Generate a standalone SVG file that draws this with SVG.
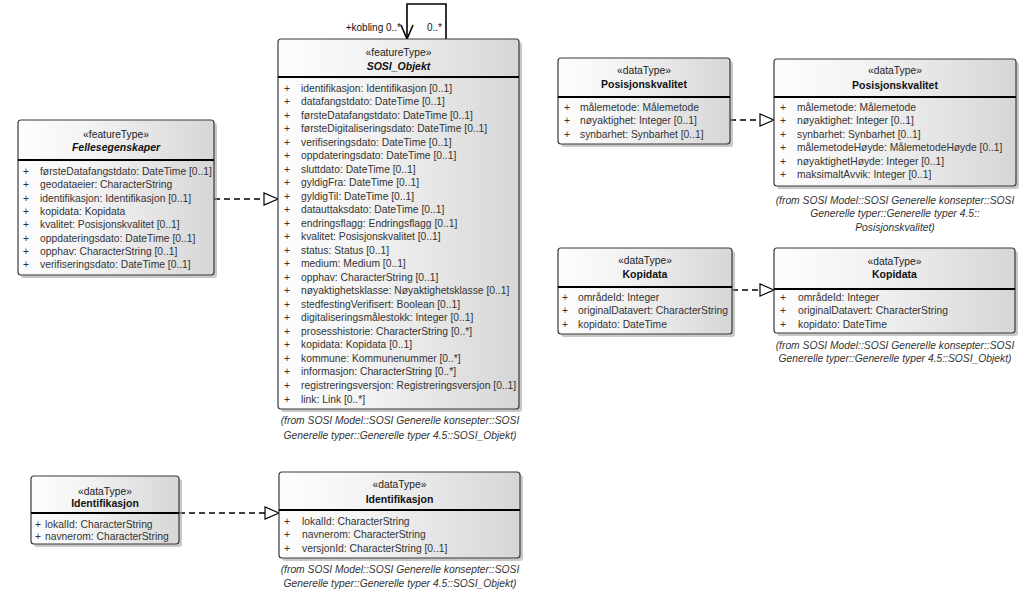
<svg xmlns="http://www.w3.org/2000/svg" width="1023" height="606" viewBox="0 0 1023 606">
<defs>
<linearGradient id="g" x1="0" y1="0" x2="1" y2="0">
<stop offset="0" stop-color="#fdfdfd"/>
<stop offset="0.35" stop-color="#f4f4f4"/>
<stop offset="1" stop-color="#d6d6d6"/>
</linearGradient>
<style>
.box{fill:url(#g);stroke:#3a3a3a;stroke-width:1.2}
.sh{fill:#9a9a9a;opacity:0.55}
.div{stroke:#000;stroke-width:2}
text{font-family:"Liberation Sans",Arial,sans-serif}
.st{font-size:10.3px;fill:#222;text-anchor:middle}
.ti{font-size:10.5px;font-weight:bold;fill:#111;text-anchor:middle}
.tii{font-size:10.5px;font-weight:bold;font-style:italic;fill:#111;text-anchor:middle}
.a{font-size:10.3px;fill:#333}
.fr{font-size:10.3px;font-style:italic;fill:#333;text-anchor:middle}
.lb{font-size:10px;fill:#111}
.dash{fill:none;stroke:#000;stroke-width:1.3;stroke-dasharray:6 4}
.tri{fill:#fff;stroke:#000;stroke-width:1.2}
.ln{fill:none;stroke:#000;stroke-width:1.6}
</style>
</defs>

<g id="connectors">
<path class="dash" d="M214,199 L264,199"/>
<polygon class="tri" points="278,199 264,193 264,205"/>
<path class="dash" d="M730,120 L760,120"/>
<polygon class="tri" points="774,120 760,114 760,126"/>
<path class="dash" d="M732,290 L760,290"/>
<polygon class="tri" points="774,290 760,284 760,296"/>
<path class="dash" d="M179,513 L265,513"/>
<polygon class="tri" points="279,513 265,507 265,519"/>
<path class="ln" d="M407,39 L407,4 L446,4 L446,39"/>
<polyline class="ln" points="401,25 407,39 413,25"/>
<text class="lb" x="401" y="31" text-anchor="end">+kobling 0..*</text>
<text class="lb" x="427" y="31">0..*</text>
</g>

<g id="Fellesegenskaper">
<rect class="sh" x="21" y="123" width="196" height="155" rx="3"/>
<rect class="box" x="18" y="120" width="196" height="155" rx="3"/>
<line class="div" x1="18" y1="160" x2="214" y2="160"/>
<text class="st" x="116" y="137.5">«featureType»</text>
<text class="tii" x="116" y="151">Fellesegenskaper</text>
<g class="a">
<text x="23" y="175">+</text><text x="40" y="175">førsteDatafangstdato: DateTime [0..1]</text>
<text x="23" y="188.3">+</text><text x="40" y="188.3">geodataeier: CharacterString</text>
<text x="23" y="201.6">+</text><text x="40" y="201.6">identifikasjon: Identifikasjon [0..1]</text>
<text x="23" y="214.9">+</text><text x="40" y="214.9">kopidata: Kopidata</text>
<text x="23" y="228.2">+</text><text x="40" y="228.2">kvalitet: Posisjonskvalitet [0..1]</text>
<text x="23" y="241.5">+</text><text x="40" y="241.5">oppdateringsdato: DateTime [0..1]</text>
<text x="23" y="254.8">+</text><text x="40" y="254.8">opphav: CharacterString [0..1]</text>
<text x="23" y="268.1">+</text><text x="40" y="268.1">verifiseringsdato: DateTime [0..1]</text>
</g>
</g>

<g id="SOSI_Objekt">
<rect class="sh" x="281" y="42" width="241" height="370" rx="3"/>
<rect class="box" x="278" y="39" width="241" height="370" rx="3"/>
<line class="div" x1="278" y1="77" x2="519" y2="77"/>
<text class="st" x="398.5" y="55.5">«featureType»</text>
<text class="tii" x="398.5" y="69.5">SOSI_Objekt</text>
<g class="a">
<text x="284" y="91.5">+</text><text x="301" y="91.5">identifikasjon: Identifikasjon [0..1]</text>
<text x="284" y="105">+</text><text x="301" y="105">datafangstdato: DateTime [0..1]</text>
<text x="284" y="118.5">+</text><text x="301" y="118.5">førsteDatafangstdato: DateTime [0..1]</text>
<text x="284" y="132.1">+</text><text x="301" y="132.1">førsteDigitaliseringsdato: DateTime [0..1]</text>
<text x="284" y="145.6">+</text><text x="301" y="145.6">verifiseringsdato: DateTime [0..1]</text>
<text x="284" y="159.1">+</text><text x="301" y="159.1">oppdateringsdato: DateTime [0..1]</text>
<text x="284" y="172.6">+</text><text x="301" y="172.6">sluttdato: DateTime [0..1]</text>
<text x="284" y="186.1">+</text><text x="301" y="186.1">gyldigFra: DateTime [0..1]</text>
<text x="284" y="199.7">+</text><text x="301" y="199.7">gyldigTil: DateTime [0..1]</text>
<text x="284" y="213.2">+</text><text x="301" y="213.2">datauttaksdato: DateTime [0..1]</text>
<text x="284" y="226.7">+</text><text x="301" y="226.7">endringsflagg: Endringsflagg [0..1]</text>
<text x="284" y="240.2">+</text><text x="301" y="240.2">kvalitet: Posisjonskvalitet [0..1]</text>
<text x="284" y="253.7">+</text><text x="301" y="253.7">status: Status [0..1]</text>
<text x="284" y="267.3">+</text><text x="301" y="267.3">medium: Medium [0..1]</text>
<text x="284" y="280.8">+</text><text x="301" y="280.8">opphav: CharacterString [0..1]</text>
<text x="284" y="294.3">+</text><text x="301" y="294.3">nøyaktighetsklasse: Nøyaktighetsklasse [0..1]</text>
<text x="284" y="307.8">+</text><text x="301" y="307.8">stedfestingVerifisert: Boolean [0..1]</text>
<text x="284" y="321.3">+</text><text x="301" y="321.3">digitaliseringsmålestokk: Integer [0..1]</text>
<text x="284" y="334.9">+</text><text x="301" y="334.9">prosesshistorie: CharacterString [0..*]</text>
<text x="284" y="348.4">+</text><text x="301" y="348.4">kopidata: Kopidata [0..1]</text>
<text x="284" y="361.9">+</text><text x="301" y="361.9">kommune: Kommunenummer [0..*]</text>
<text x="284" y="375.4">+</text><text x="301" y="375.4">informasjon: CharacterString [0..*]</text>
<text x="284" y="388.9">+</text><text x="301" y="388.9">registreringsversjon: Registreringsversjon [0..1]</text>
<text x="284" y="402.5">+</text><text x="301" y="402.5">link: Link [0..*]</text>
</g>
<text class="fr" x="400" y="424">(from SOSI Model::SOSI Generelle konsepter::SOSI</text>
<text class="fr" x="400" y="439">Generelle typer::Generelle typer 4.5::SOSI_Objekt)</text>
</g>

<g id="Posisjonskvalitet_left">
<rect class="sh" x="561" y="61" width="172" height="86" rx="3"/>
<rect class="box" x="558" y="58" width="172" height="86" rx="3"/>
<line class="div" x1="558" y1="97" x2="730" y2="97"/>
<text class="st" x="644" y="73.5">«dataType»</text>
<text class="ti" x="644" y="87.5">Posisjonskvalitet</text>
<g class="a">
<text x="564" y="110.5">+</text><text x="580" y="110.5">målemetode: Målemetode</text>
<text x="564" y="124">+</text><text x="580" y="124">nøyaktighet: Integer [0..1]</text>
<text x="564" y="137.5">+</text><text x="580" y="137.5">synbarhet: Synbarhet [0..1]</text>
</g>
</g>

<g id="Posisjonskvalitet_right">
<rect class="sh" x="777" y="62" width="242" height="127" rx="3"/>
<rect class="box" x="774" y="59" width="242" height="127" rx="3"/>
<line class="div" x1="774" y1="97" x2="1016" y2="97"/>
<text class="st" x="895" y="73.5">«dataType»</text>
<text class="ti" x="895" y="89">Posisjonskvalitet</text>
<g class="a">
<text x="780" y="110.5">+</text><text x="797" y="110.5">målemetode: Målemetode</text>
<text x="780" y="124">+</text><text x="797" y="124">nøyaktighet: Integer [0..1]</text>
<text x="780" y="137.5">+</text><text x="797" y="137.5">synbarhet: Synbarhet [0..1]</text>
<text x="780" y="151">+</text><text x="797" y="151">målemetodeHøyde: MålemetodeHøyde [0..1]</text>
<text x="780" y="164.5">+</text><text x="797" y="164.5">nøyaktighetHøyde: Integer [0..1]</text>
<text x="780" y="178">+</text><text x="797" y="178">maksimaltAvvik: Integer [0..1]</text>
</g>
<text class="fr" x="895" y="203.5">(from SOSI Model::SOSI Generelle konsepter::SOSI</text>
<text class="fr" x="895" y="217">Generelle typer::Generelle typer 4.5::</text>
<text class="fr" x="895" y="231">Posisjonskvalitet)</text>
</g>

<g id="Kopidata_left">
<rect class="sh" x="561" y="251" width="174" height="86" rx="3"/>
<rect class="box" x="558" y="248" width="174" height="86" rx="3"/>
<line class="div" x1="558" y1="287" x2="732" y2="287"/>
<text class="st" x="645" y="263.5">«dataType»</text>
<text class="ti" x="645" y="277.5">Kopidata</text>
<g class="a">
<text x="562" y="300.5">+</text><text x="578" y="300.5">områdeId: Integer</text>
<text x="562" y="314">+</text><text x="578" y="314">originalDatavert: CharacterString</text>
<text x="562" y="327.5">+</text><text x="578" y="327.5">kopidato: DateTime</text>
</g>
</g>

<g id="Kopidata_right">
<rect class="sh" x="777" y="251" width="241" height="85" rx="3"/>
<rect class="box" x="774" y="248" width="241" height="85" rx="3"/>
<line class="div" x1="774" y1="289" x2="1015" y2="289"/>
<text class="st" x="894.5" y="265">«dataType»</text>
<text class="ti" x="894.5" y="278">Kopidata</text>
<g class="a">
<text x="780" y="300.5">+</text><text x="798" y="300.5">områdeId: Integer</text>
<text x="780" y="314">+</text><text x="798" y="314">originalDatavert: CharacterString</text>
<text x="780" y="327.5">+</text><text x="798" y="327.5">kopidato: DateTime</text>
</g>
<text class="fr" x="895" y="348.5">(from SOSI Model::SOSI Generelle konsepter::SOSI</text>
<text class="fr" x="895" y="362">Generelle typer::Generelle typer 4.5::SOSI_Objekt)</text>
</g>

<g id="Identifikasjon_left">
<rect class="sh" x="34" y="479" width="148" height="68" rx="3"/>
<rect class="box" x="31" y="476" width="148" height="68" rx="3"/>
<line class="div" x1="31" y1="513" x2="179" y2="513"/>
<text class="st" x="105" y="494.5">«dataType»</text>
<text class="ti" x="105" y="507">Identifikasjon</text>
<g class="a">
<text x="35" y="527.5">+</text><text x="45" y="527.5">lokalId: CharacterString</text>
<text x="35" y="540">+</text><text x="45" y="540">navnerom: CharacterString</text>
</g>
</g>

<g id="Identifikasjon_right">
<rect class="sh" x="282" y="475" width="241" height="86" rx="3"/>
<rect class="box" x="279" y="472" width="241" height="86" rx="3"/>
<line class="div" x1="279" y1="510" x2="520" y2="510"/>
<text class="st" x="399.5" y="487.5">«dataType»</text>
<text class="ti" x="399.5" y="502.5">Identifikasjon</text>
<g class="a">
<text x="284" y="524.5">+</text><text x="302" y="524.5">lokalId: CharacterString</text>
<text x="284" y="538.2">+</text><text x="302" y="538.2">navnerom: CharacterString</text>
<text x="284" y="552">+</text><text x="302" y="552">versjonId: CharacterString [0..1]</text>
</g>
<text class="fr" x="400" y="572.5">(from SOSI Model::SOSI Generelle konsepter::SOSI</text>
<text class="fr" x="400" y="586.5">Generelle typer::Generelle typer 4.5::SOSI_Objekt)</text>
</g>
</svg>
